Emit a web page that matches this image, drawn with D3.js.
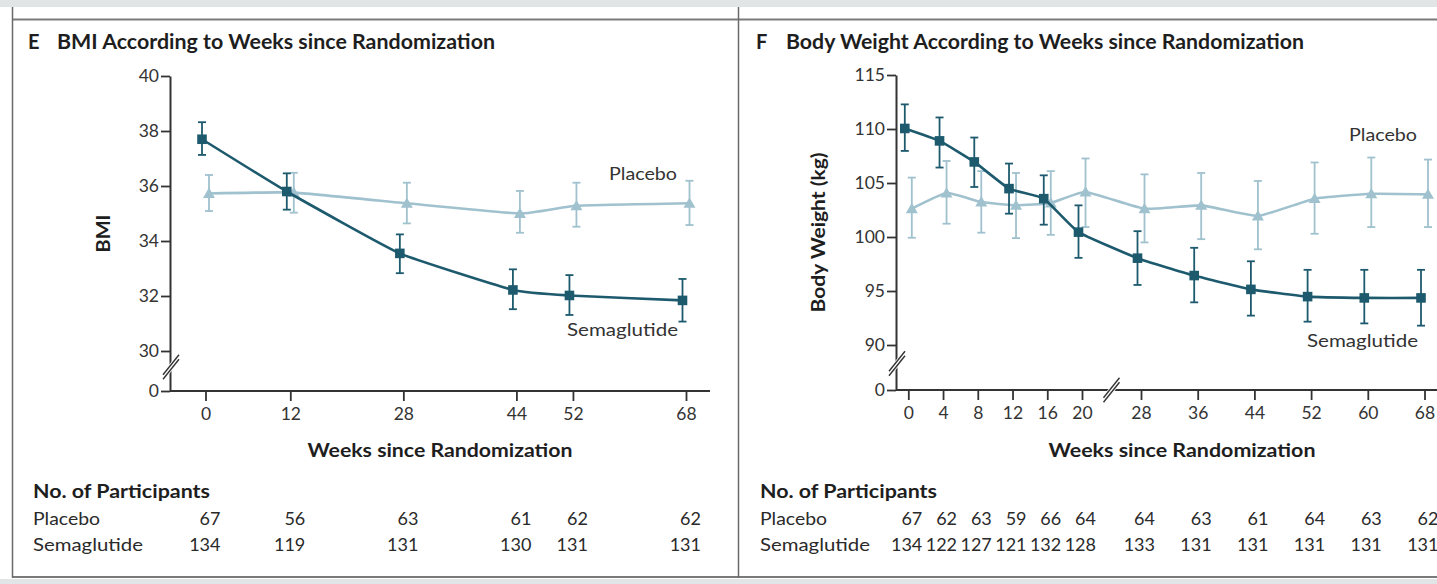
<!DOCTYPE html>
<html>
<head>
<meta charset="utf-8">
<script src="https://cdn.jsdelivr.net/npm/d3@7"></script>
<style>
  html, body { margin: 0; padding: 0; background: #ffffff; }
  svg { display: block; }
  text { font-family: Lato, "Open Sans", "Noto Sans", sans-serif; fill: #2e2e2e; }
</style>
</head>
<body>
<svg id="chart" width="1437" height="584"></svg>
<script>
// ---------------- DATA ----------------
// Panel E: BMI
const bmiWeeks   = [0, 12, 28, 44, 52, 68];
const bmiSema    = [37.70, 35.80, 33.55, 32.22, 32.02, 31.84];
const bmiSemaLo  = [37.13, 35.14, 32.83, 31.52, 31.31, 31.07];
const bmiSemaHi  = [38.32, 36.46, 34.24, 32.97, 32.76, 32.62];
const bmiPlac    = [35.73, 35.76, 35.37, 35.00, 35.28, 35.37];
const bmiPlacLo  = [35.09, 35.03, 34.64, 34.30, 34.52, 34.58];
const bmiPlacHi  = [36.40, 36.48, 36.12, 35.82, 36.12, 36.19];
const bmiYTicks  = [0, 30, 32, 34, 36, 38, 40];
const bmiPlacN   = [67, 56, 63, 61, 62, 62];
const bmiSemaN   = [134, 119, 131, 130, 131, 131];

// Panel F: Body weight (kg)
const bwWeeks    = [0, 4, 8, 12, 16, 20, 28, 36, 44, 52, 60, 68];
const bwSema     = [110.05, 108.90, 106.95, 104.48, 103.55, 100.45, 98.04, 96.43, 95.15, 94.48, 94.36, 94.36];
const bwSemaLo   = [107.97, 106.43, 104.63, 102.16, 101.14, 98.07, 95.56, 93.95, 92.72, 92.16, 92.00, 91.79];
const bwSemaHi   = [112.28, 111.07, 109.21, 106.80, 105.71, 102.93, 100.54, 99.00, 97.75, 96.96, 96.96, 96.96];
const bwPlac     = [102.62, 104.07, 103.24, 102.93, 103.15, 104.17, 102.62, 102.93, 101.95, 103.55, 104.00, 103.95];
const bwPlacLo   = [99.93, 101.23, 100.40, 99.90, 100.20, 100.92, 99.50, 99.80, 98.86, 100.30, 100.92, 100.92];
const bwPlacHi   = [105.50, 107.04, 106.10, 105.93, 106.10, 107.27, 105.80, 105.93, 105.19, 106.90, 107.36, 107.17];
const bwYTicks   = [0, 90, 95, 100, 105, 110, 115];
const bwPlacN    = [67, 62, 63, 59, 66, 64, 64, 63, 61, 64, 63, 62];
const bwSemaN    = [134, 122, 127, 121, 132, 128, 133, 131, 131, 131, 131, 131];

const groupNames = ["Placebo", "Semaglutide"];

// ---------------- STYLE ----------------
const SEMA = "#1d5a6e";
const PLAC = "#a0c1ce";
const AXIS = "#333333";

const svg = d3.select("#chart");

// frame
svg.append("rect").attr("x", 0).attr("y", 0).attr("width", 1437).attr("height", 7).attr("fill", "#e1e5e5");
svg.append("rect").attr("x", 0).attr("y", 579).attr("width", 1437).attr("height", 5).attr("fill", "#e1e5e5");
svg.append("line").attr("x1", 12).attr("x2", 1437).attr("y1", 19.5).attr("y2", 19.5).attr("stroke", "#7a7a7a").attr("stroke-width", 2);
svg.append("line").attr("x1", 12).attr("x2", 1437).attr("y1", 577).attr("y2", 577).attr("stroke", "#7a7a7a").attr("stroke-width", 2);
svg.append("line").attr("x1", 12.5).attr("x2", 12.5).attr("y1", 7).attr("y2", 578).attr("stroke", "#6a6a6a").attr("stroke-width", 1.5);
svg.append("line").attr("x1", 738.5).attr("x2", 738.5).attr("y1", 7).attr("y2", 578).attr("stroke", "#6a6a6a").attr("stroke-width", 1.5);

function fit(sel, w) { return sel.attr("textLength", w).attr("lengthAdjust", "spacingAndGlyphs"); }

function breakMark(g, cx, cy) {
  // double slash axis break
  const dx = 8, dy = 10, gap = 4.5;
  g.append("path")
    .attr("d", `M${cx - dx},${cy + dy}L${cx + dx},${cy - dy}`)
    .attr("stroke", "#fff").attr("stroke-width", gap + 1.5);
  [-gap / 2, gap / 2].forEach(o => {
    g.append("path")
      .attr("d", `M${cx - dx},${cy + dy + o}L${cx + dx},${cy - dy + o}`)
      .attr("stroke", AXIS).attr("stroke-width", 1.4);
  });
}

function drawPanel(cfg) {
  const g = svg.append("g");
  const { x, y } = cfg;

  // Title
  g.append("text").attr("x", cfg.letterX).attr("y", 49).attr("font-size", 20).attr("font-weight", 700)
    .style("fill", "#1e1e1e").text(cfg.letter);
  fit(g.append("text").attr("x", cfg.titleX).attr("y", 49).attr("font-size", 20).attr("font-weight", 700)
    .style("fill", "#1e1e1e").text(cfg.title), cfg.titleW);

  // X axis line
  g.append("line").attr("x1", cfg.axisX).attr("x2", cfg.xLineEnd).attr("y1", y(0)).attr("y2", y(0))
    .attr("stroke", AXIS).attr("stroke-width", 2);

  // Y axis
  const ya = g.append("g").attr("transform", `translate(${cfg.axisX},0)`)
    .call(d3.axisLeft(y).tickValues(cfg.yTicks).tickSize(9).tickPadding(2).tickSizeOuter(0));
  ya.select(".domain").attr("stroke", AXIS).attr("stroke-width", 2);
  ya.selectAll(".tick line").attr("stroke", AXIS).attr("stroke-width", 1.8);
  ya.selectAll(".tick text").attr("font-size", 17.5).attr("font-family", "Lato").style("fill", "#333");

  // X axis ticks
  const xa = g.append("g").attr("transform", `translate(0,${y(0)})`)
    .call(d3.axisBottom(x).tickValues(cfg.weeks).tickSize(10).tickPadding(7).tickSizeOuter(0));
  xa.select(".domain").remove();
  xa.selectAll(".tick line").attr("stroke", AXIS).attr("stroke-width", 1.8);
  xa.selectAll(".tick text").attr("font-size", 17.5).attr("font-family", "Lato").style("fill", "#333");

  // axis breaks
  breakMark(g, cfg.axisX + 1, (y(0) + y(cfg.yTicks[1])) / 2 - 4);
  if (cfg.xBreak) breakMark(g, (x(cfg.xBreak[0]) + x(cfg.xBreak[1])) / 2, y(0));

  // Axis titles
  fit(g.append("text").attr("x", cfg.xTitleX).attr("y", 457).attr("text-anchor", "middle")
    .attr("font-size", 19).attr("font-weight", 700).style("fill", "#1e1e1e").text("Weeks since Randomization"), cfg.xTitleW);
  fit(g.append("text")
    .attr("transform", `translate(${cfg.yTitleX},${(y(0) + y(cfg.yTicks[cfg.yTicks.length - 1])) / 2}) rotate(-90)`)
    .attr("text-anchor", "middle").attr("font-size", 18.5).attr("font-weight", 700).style("fill", "#1e1e1e")
    .text(cfg.yTitle), cfg.yTitleW);

  // Series
  const series = [
    { name: "Placebo", color: PLAC, v: cfg.plac, lo: cfg.placLo, hi: cfg.placHi, off: 3.5, sym: d3.symbolTriangle, size: 62 },
    { name: "Semaglutide", color: SEMA, v: cfg.sema, lo: cfg.semaLo, hi: cfg.semaHi, off: -3.5, sym: d3.symbolSquare, size: 92 }
  ];
  series.forEach(s => {
    const pts = cfg.weeks.map((w, i) => ({ w, v: s.v[i], lo: s.lo[i], hi: s.hi[i] }));
    const px = d => x(d.w) + s.off;
    const sg = g.append("g");
    sg.append("path").datum(pts)
      .attr("d", d3.line().x(px).y(d => y(d.v)).curve(d3.curveCardinal.tension(0.6)))
      .attr("fill", "none").attr("stroke", s.color).attr("stroke-width", 2.6);
    const eb = sg.selectAll(".eb").data(pts).enter().append("g");
    eb.append("line").attr("x1", px).attr("x2", px).attr("y1", d => y(d.lo)).attr("y2", d => y(d.hi))
      .attr("stroke", s.color).attr("stroke-width", 1.8);
    [d => y(d.lo), d => y(d.hi)].forEach(fy => {
      eb.append("line").attr("x1", d => px(d) - 4).attr("x2", d => px(d) + 4).attr("y1", fy).attr("y2", fy)
        .attr("stroke", s.color).attr("stroke-width", 1.8);
    });
    sg.selectAll(".sym").data(pts).enter().append("path")
      .attr("d", d3.symbol().type(s.sym).size(s.size))
      .attr("transform", d => `translate(${px(d)},${y(d.v) + (s.sym === d3.symbolTriangle ? 1 : 0)})`)
      .attr("fill", s.color);
  });

  // In-plot labels
  fit(g.append("text").attr("x", cfg.placLabel[0]).attr("y", cfg.placLabel[1]).attr("font-size", 18)
    .attr("text-anchor", "end").style("fill", "#333").text("Placebo"), 68);
  fit(g.append("text").attr("x", cfg.semaLabel[0]).attr("y", cfg.semaLabel[1]).attr("font-size", 18)
    .attr("text-anchor", "end").style("fill", "#333").text("Semaglutide"), 111);

  // Participants table
  fit(g.append("text").attr("x", cfg.tableX).attr("y", 498).attr("font-size", 19).attr("font-weight", 700)
    .style("fill", "#1e1e1e").text("No. of Participants"), 177);
  const rows = [
    { name: groupNames[0], n: cfg.placN, yy: 525, w: 67 },
    { name: groupNames[1], n: cfg.semaN, yy: 551, w: 110 }
  ];
  rows.forEach(r => {
    fit(g.append("text").attr("x", cfg.tableX).attr("y", r.yy).attr("font-size", 18).style("fill", "#2a2a2a").text(r.name), r.w);
    g.selectAll(null).data(cfg.weeks).enter().append("text")
      .attr("x", w => x(w) + cfg.numOff).attr("y", r.yy).attr("text-anchor", "end")
      .attr("font-size", 18).style("fill", "#2a2a2a")
      .text((w, i) => r.n[i]);
  });
}

// Panel E
drawPanel({
  letter: "E", letterX: 28, title: "BMI According to Weeks since Randomization", titleX: 57, titleW: 438,
  x: d3.scaleLinear().domain([0, 68]).range([205.5, 686]),
  y: d3.scaleLinear().domain([0, 30, 40]).range([391, 351, 76]),
  axisX: 170, xLineEnd: 710, yTicks: bmiYTicks, weeks: bmiWeeks,
  sema: bmiSema, semaLo: bmiSemaLo, semaHi: bmiSemaHi,
  plac: bmiPlac, placLo: bmiPlacLo, placHi: bmiPlacHi,
  placN: bmiPlacN, semaN: bmiSemaN,
  xTitleX: 440, xTitleW: 265, yTitle: "BMI", yTitleX: 110, yTitleW: 38,
  placLabel: [677, 180], semaLabel: [678, 336],
  tableX: 33, numOff: 15
});

// Panel F
drawPanel({
  letter: "F", letterX: 756, title: "Body Weight According to Weeks since Randomization", titleX: 786, titleW: 518,
  x: d3.scaleLinear().domain([0, 20, 28, 68]).range([908.3, 1082, 1141, 1424.5]),
  y: d3.scaleLinear().domain([0, 90, 115]).range([390, 345, 75]),
  axisX: 896, xLineEnd: 1437, yTicks: bwYTicks, weeks: bwWeeks, xBreak: [20, 28],
  sema: bwSema, semaLo: bwSemaLo, semaHi: bwSemaHi,
  plac: bwPlac, placLo: bwPlacLo, placHi: bwPlacHi,
  placN: bwPlacN, semaN: bwSemaN,
  xTitleX: 1182, xTitleW: 267, yTitle: "Body Weight (kg)", yTitleX: 825, yTitleW: 160,
  placLabel: [1417, 141], semaLabel: [1418, 347],
  tableX: 760, numOff: 14
});
</script>
</body>
</html>
